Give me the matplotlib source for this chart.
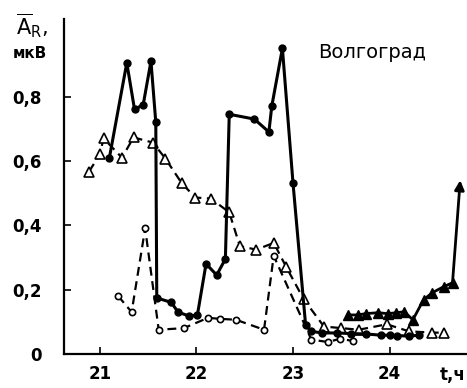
import matplotlib.pyplot as plt

# filled circles, solid line
t_fc = [21.10, 21.28, 21.36, 21.45, 21.53, 21.58, 21.59, 21.74, 21.81, 21.92, 22.01,
        22.10, 22.21, 22.30, 22.34, 22.60, 22.75, 22.78, 22.89, 23.00, 23.13, 23.19,
        23.30, 23.46, 23.60, 23.75, 23.91, 24.00, 24.08, 24.20, 24.30]
a_fc = [0.61, 0.905, 0.76, 0.775, 0.91, 0.72, 0.174, 0.16, 0.13, 0.118, 0.12,
        0.28, 0.245, 0.295, 0.745, 0.73, 0.69, 0.77, 0.95, 0.53, 0.09, 0.07,
        0.065, 0.065, 0.063, 0.062, 0.058, 0.058, 0.057, 0.055, 0.058]

# open triangles, dashed line
t_ot = [20.89, 21.00, 21.04, 21.23, 21.35, 21.55, 21.68, 21.85, 21.99, 22.15, 22.34,
        22.45, 22.62, 22.80, 22.93, 23.11, 23.32, 23.50, 23.68, 23.97, 24.20, 24.44, 24.56]
a_ot = [0.567, 0.62, 0.67, 0.61, 0.673, 0.657, 0.607, 0.53, 0.486, 0.483, 0.44,
        0.335, 0.324, 0.345, 0.27, 0.17, 0.085, 0.08, 0.075, 0.092, 0.07, 0.066, 0.066]

# open circles, dashed line
t_oc = [21.19, 21.33, 21.47, 21.61, 21.87, 22.12, 22.24, 22.41, 22.70, 22.80,
        23.19, 23.36, 23.49, 23.62]
a_oc = [0.18, 0.13, 0.39, 0.075, 0.08, 0.112, 0.109, 0.106, 0.075, 0.305,
        0.044, 0.037, 0.047, 0.04]

# filled triangles, solid line
t_ft = [23.57, 23.67, 23.75, 23.88, 23.98, 24.07, 24.15, 24.24, 24.35, 24.44, 24.56, 24.65]
a_ft = [0.121, 0.121, 0.125, 0.128, 0.125, 0.128, 0.131, 0.106, 0.168, 0.19, 0.209, 0.221]
arrow_tip = (24.73, 0.54)

yticks = [0, 0.2, 0.4, 0.6, 0.8]
ylabels = ['0', '0,2', '0,4', '0,6', '0,8']
xticks = [21, 22, 23, 24]

fig = plt.figure(figsize=(4.67, 3.88), dpi=100)
ax = fig.add_axes([0.137, 0.088, 0.863, 0.862])

ax.plot(t_ot, a_ot, ls=(0, (4, 2.5)), color='black', lw=1.6,
        marker='^', ms=7, mfc='white', mec='black', mew=1.2)
ax.plot(t_oc, a_oc, ls=(0, (4, 2.5)), color='black', lw=1.6,
        marker='o', ms=4.5, mfc='white', mec='black', mew=1.2)
ax.plot(t_fc, a_fc, '-', color='black', lw=2.2,
        marker='o', ms=5, mfc='black', mec='black')
ax.plot(t_ft, a_ft, '-', color='black', lw=2.0,
        marker='^', ms=7, mfc='black', mec='black')
ax.annotate('', xy=arrow_tip, xytext=(t_ft[-1], a_ft[-1]),
            arrowprops=dict(arrowstyle='-|>', color='black', lw=2.0,
                            mutation_scale=14, shrinkA=0, shrinkB=0))

ax.set_xlim(20.63, 24.80)
ax.set_ylim(0, 1.04)
ax.set_xticks(xticks)
ax.set_xticklabels([str(x) for x in xticks])
ax.set_yticks(yticks)
ax.set_yticklabels(ylabels)
ax.tick_params(direction='in', length=5, width=1.2, labelsize=12)
ax.tick_params(axis='y', pad=16)
ax.tick_params(axis='x', pad=8)
for lab in ax.get_xticklabels() + ax.get_yticklabels():
    lab.set_fontweight('bold')
ax.spines['top'].set_visible(False)
ax.spines['right'].set_visible(False)
for s in ('left', 'bottom'):
    ax.spines[s].set_linewidth(1.6)

ax.text(0.764, 0.90, 'Волгоград', transform=ax.transAxes, fontsize=14,
        ha='center', va='center')
fig.text(0.998, 0.034, 't,ч', fontsize=12, fontweight='bold', ha='right', va='center')
fig.text(0.068, 0.935, r'$\overline{\mathrm{A}}_{\mathrm{R}}$,', fontsize=15, ha='center', va='center')
fig.text(0.063, 0.862, 'мкВ', fontsize=11, fontweight='bold', ha='center', va='center')

fig.savefig('out.png', dpi=100)
